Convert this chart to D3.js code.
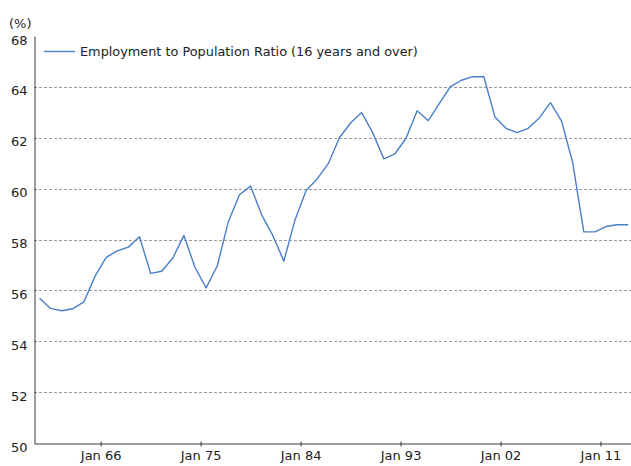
<!DOCTYPE html>
<html>
<head>
<meta charset="utf-8">
<script src="https://cdn.jsdelivr.net/npm/d3@7"></script>
<style>
  html, body { margin: 0; padding: 0; background: #fff; }
  svg text { font-family: "DejaVu Sans", Verdana, sans-serif; fill: #222; }
</style>
</head>
<body>
<div id="chart"></div>
<script>
// ========== Data ==========
const years = [
  1960, 1961, 1962, 1963, 1964, 1965, 1966, 1967, 1968, 1969,
  1970, 1971, 1972, 1973, 1974, 1975, 1976, 1977, 1978, 1979,
  1980, 1981, 1982, 1983, 1984, 1985, 1986, 1987, 1988, 1989,
  1990, 1991, 1992, 1993, 1994, 1995, 1996, 1997, 1998, 1999,
  2000, 2001, 2002, 2003, 2004, 2005, 2006, 2007, 2008, 2009,
  2010, 2011, 2012, 2013
];
const ratio = [
  55.69, 55.29, 55.20, 55.28, 55.55, 56.56, 57.30, 57.55, 57.70, 58.11,
  56.67, 56.75, 57.27, 58.16, 56.90, 56.10, 56.96, 58.70, 59.76, 60.10,
  58.97, 58.16, 57.15, 58.77, 59.93, 60.38, 60.98, 62.00, 62.58, 62.99,
  62.20, 61.17, 61.37, 61.98, 63.06, 62.67, 63.35, 64.01, 64.26, 64.40,
  64.40, 62.82, 62.37, 62.20, 62.37, 62.78, 63.38, 62.65, 61.03, 58.30,
  58.30, 58.51, 58.58, 58.58
];
const seriesName = 'Employment to Population Ratio (16 years and over)';
const xTickYears = [1966, 1975, 1984, 1993, 2002, 2011];
const yTicks = [50, 52, 54, 56, 58, 60, 62, 64, 66];
const yTickLabels = ['50', '52', '54', '56', '58', '60', '62', '64', '68'];
const yUnit = '(%)';


// ========== Config ==========
const config = {
  width: 631,
  height: 466,
  plot: { left: 34, right: 631, top: 36, bottom: 443 },
  color: '#4a7ec9'
};


// ========== SVG ==========
const svg = d3.select('#chart')
  .append('svg')
  .attr('width', config.width)
  .attr('height', config.height);


// ========== Scales ==========
const points = years.map((y, i) => ({ date: new Date(y, 6, 1), value: ratio[i] }));

const x = d3.scaleTime()
  .domain([new Date(1960, 0, 1), new Date(2013, 9, 1)])
  .range([config.plot.left, config.plot.right]);

const y = d3.scaleLinear()
  .domain([50, 66])
  .range([config.plot.bottom, config.plot.top]);


// ========== Gridlines ==========
svg.append('g')
  .attr('class', 'grid')
  .selectAll('line')
  .data(yTicks.filter(t => t > 50 && t < 66))
  .join('line')
    .attr('x1', config.plot.left)
    .attr('x2', config.plot.right)
    .attr('y1', d => Math.round(y(d)) + 0.5)
    .attr('y2', d => Math.round(y(d)) + 0.5)
    .attr('stroke', '#9a9a9a')
    .attr('stroke-width', 1)
    .attr('stroke-dasharray', '3,2');


// ========== Axes ==========
const xAxis = d3.axisBottom(x)
  .tickValues(xTickYears.map(yr => new Date(yr, 0, 1)))
  .tickFormat(d3.timeFormat('%b %y'))
  .tickSize(3)
  .tickSizeOuter(0);

const gx = svg.append('g')
  .attr('transform', `translate(0, ${config.plot.bottom + 0.5})`)
  .call(xAxis);

gx.select('.domain').attr('stroke', '#3a3a3a');
gx.selectAll('.tick line')
  .attr('stroke', '#3a3a3a')
  .attr('y1', -2);
gx.selectAll('.tick text')
  .attr('y', 7)
  .attr('dy', '0.71em')
  .style('font-size', '13px');

const yAxis = d3.axisLeft(y)
  .tickValues(yTicks)
  .tickFormat((d, i) => yTickLabels[i])
  .tickSize(0)
  .tickPadding(7);

const gy = svg.append('g')
  .attr('transform', `translate(${config.plot.left + 0.5}, 0)`)
  .call(yAxis);

gy.select('.domain').attr('stroke', '#3a3a3a');
gy.selectAll('.tick text')
  .attr('dy', '0.62em')
  .style('font-size', '13px');

// Unit label
svg.append('text')
  .attr('x', 9)
  .attr('y', 28)
  .style('font-size', '13px')
  .text(yUnit);


// ========== Line ==========
const line = d3.line()
  .x(d => x(d.date))
  .y(d => y(d.value));

svg.append('path')
  .datum(points)
  .attr('fill', 'none')
  .attr('stroke', config.color)
  .attr('stroke-width', 1.4)
  .attr('stroke-linejoin', 'round')
  .attr('d', line);


// ========== Legend ==========
const legend = svg.append('g')
  .attr('transform', 'translate(44, 51)');

legend.append('line')
  .attr('x1', 0)
  .attr('x2', 31)
  .attr('y1', 0.5)
  .attr('y2', 0.5)
  .attr('stroke', config.color)
  .attr('stroke-width', 1.4);

legend.append('text')
  .attr('x', 36)
  .attr('y', 0)
  .attr('dy', '0.36em')
  .style('font-size', '12.85px')
  .text(seriesName);
</script>
</body>
</html>
